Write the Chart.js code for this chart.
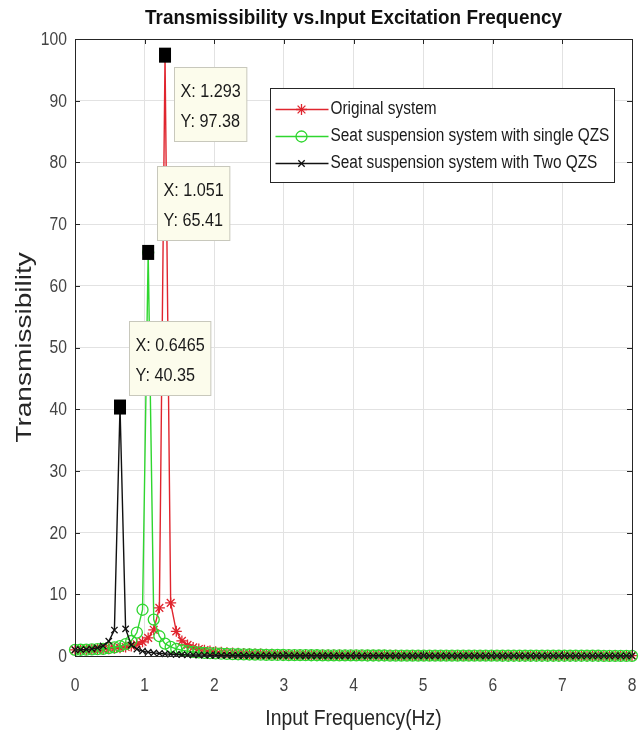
<!DOCTYPE html>
<html>
<head>
<meta charset="utf-8">
<title>Transmissibility vs. Input Excitation Frequency</title>
<script src="https://cdn.jsdelivr.net/npm/chart.js@4.4.1/dist/chart.umd.min.js"></script>
<style>
  html, body { margin: 0; padding: 0; background: #fff; }
  #wrap { width: 644px; height: 740px; }
</style>
</head>
<body>
<div id="wrap"><canvas id="chart" width="644" height="740"></canvas></div>
<script>
// --- data ---
// frequency grid, 100 samples from 0 to 8 Hz
var freqHz = [
  0, 0.081, 0.162, 0.242, 0.323, 0.404, 0.485, 0.566, 0.6465, 0.727,
  0.808, 0.889, 0.970, 1.051, 1.131, 1.212, 1.293, 1.374, 1.455, 1.535,
  1.616, 1.697, 1.778, 1.859, 1.939, 2.020, 2.101, 2.182, 2.263, 2.343,
  2.424, 2.505, 2.586, 2.667, 2.747, 2.828, 2.909, 2.990, 3.071, 3.152,
  3.232, 3.313, 3.394, 3.475, 3.556, 3.636, 3.717, 3.798, 3.879, 3.960,
  4.040, 4.121, 4.202, 4.283, 4.364, 4.444, 4.525, 4.606, 4.687, 4.768,
  4.848, 4.929, 5.010, 5.091, 5.172, 5.253, 5.333, 5.414, 5.495, 5.576,
  5.657, 5.737, 5.818, 5.899, 5.980, 6.061, 6.141, 6.222, 6.303, 6.384,
  6.465, 6.545, 6.626, 6.707, 6.788, 6.869, 6.949, 7.030, 7.111, 7.192,
  7.273, 7.354, 7.434, 7.515, 7.596, 7.677, 7.758, 7.838, 7.919, 8.000
];

var originalT = [
  1.00, 1.00, 1.02, 1.04, 1.07, 1.11, 1.16, 1.24, 1.33, 1.46,
  1.64, 1.89, 2.29, 2.93, 4.25, 7.80, 97.38, 8.60, 4.00, 2.45,
  1.79, 1.39, 1.13, 0.95, 0.81, 0.70, 0.61, 0.54, 0.48, 0.44,
  0.40, 0.36, 0.33, 0.31, 0.29, 0.27, 0.25, 0.24, 0.22, 0.21,
  0.20, 0.19, 0.18, 0.17, 0.17, 0.16, 0.15, 0.15, 0.14, 0.14,
  0.13, 0.13, 0.12, 0.12, 0.12, 0.11, 0.11, 0.11, 0.10, 0.10,
  0.10, 0.10, 0.09, 0.09, 0.09, 0.09, 0.08, 0.08, 0.08, 0.08,
  0.08, 0.08, 0.07, 0.07, 0.07, 0.07, 0.07, 0.07, 0.07, 0.06,
  0.06, 0.06, 0.06, 0.06, 0.06, 0.06, 0.06, 0.06, 0.05, 0.05,
  0.05, 0.05, 0.05, 0.05, 0.05, 0.05, 0.05, 0.05, 0.05, 0.05
];

var singleQzsT = [
  1.00, 1.01, 1.02, 1.06, 1.10, 1.17, 1.27, 1.41, 1.61, 1.92,
  2.43, 3.80, 7.50, 65.41, 5.90, 3.20, 2.00, 1.47, 1.15, 0.94,
  0.79, 0.68, 0.59, 0.52, 0.46, 0.41, 0.37, 0.34, 0.31, 0.28,
  0.26, 0.24, 0.22, 0.21, 0.19, 0.18, 0.17, 0.16, 0.15, 0.14,
  0.14, 0.13, 0.12, 0.12, 0.11, 0.11, 0.10, 0.10, 0.10, 0.09,
  0.09, 0.09, 0.08, 0.08, 0.08, 0.08, 0.07, 0.07, 0.07, 0.07,
  0.07, 0.06, 0.06, 0.06, 0.06, 0.06, 0.06, 0.05, 0.05, 0.05,
  0.05, 0.05, 0.05, 0.05, 0.05, 0.05, 0.04, 0.04, 0.04, 0.04,
  0.04, 0.04, 0.04, 0.04, 0.04, 0.04, 0.04, 0.04, 0.04, 0.04,
  0.04, 0.04, 0.04, 0.04, 0.03, 0.03, 0.03, 0.03, 0.03, 0.03
];

var twoQzsT = [
  1.00, 1.02, 1.07, 1.16, 1.33, 1.64, 2.40, 4.20, 40.35, 4.40,
  1.78, 1.12, 0.80, 0.62, 0.50, 0.41, 0.34, 0.29, 0.25, 0.22,
  0.19, 0.17, 0.15, 0.14, 0.12, 0.11, 0.10, 0.10, 0.09, 0.08,
  0.08, 0.07, 0.07, 0.06, 0.06, 0.06, 0.05, 0.05, 0.05, 0.05,
  0.04, 0.04, 0.04, 0.04, 0.04, 0.04, 0.03, 0.03, 0.03, 0.03,
  0.03, 0.03, 0.03, 0.03, 0.03, 0.03, 0.03, 0.02, 0.02, 0.02,
  0.02, 0.02, 0.02, 0.02, 0.02, 0.02, 0.02, 0.02, 0.02, 0.02,
  0.02, 0.02, 0.02, 0.02, 0.02, 0.02, 0.02, 0.02, 0.02, 0.02,
  0.02, 0.02, 0.02, 0.02, 0.02, 0.01, 0.01, 0.01, 0.01, 0.01,
  0.01, 0.01, 0.01, 0.01, 0.01, 0.01, 0.01, 0.01, 0.01, 0.01
];

var xTicks = [0, 1, 2, 3, 4, 5, 6, 7, 8];
var yTicks = [0, 10, 20, 30, 40, 50, 60, 70, 80, 90, 100];

var seriesNames = [
  'Original system',
  'Seat suspension system with single QZS',
  'Seat suspension system with Two QZS'
];

// data tips: sample index on each series and the X text MATLAB shows
var tipIndex = [16, 13, 8];
var tipXText = ['1.293', '1.051', '0.6465'];

// --- styles ---
var FONT = '"Liberation Sans", Arial, Helvetica, sans-serif';
var RED = '#e0252e';
var GREEN = '#2fd62f';
var BLACK = '#111111';
var SERIES_COLORS = [RED, GREEN, BLACK];
var SERIES_MARKERS = ['star', 'circle', 'crossRot'];
var SERIES_RADIUS = [5.5, 5.5, 4.5];

function toPoints(values) {
  return values.map(function (v, i) { return { x: freqHz[i], y: v }; });
}

// the original figure was squeezed sideways, so text is drawn narrower
function squeezeText(ctx, text, x, y, s) {
  var w = ctx.measureText(text).width;
  ctx.fillText(text, x, y, w * s);
}

function drawMarker(ctx, style, x, y, r, color) {
  ctx.save();
  ctx.strokeStyle = color;
  ctx.lineWidth = 1.3;
  ctx.beginPath();
  if (style === 'circle') {
    ctx.arc(x, y, r, 0, Math.PI * 2);
  } else {
    var d = r * Math.SQRT1_2;
    if (style === 'star') {
      ctx.moveTo(x - r, y); ctx.lineTo(x + r, y);
      ctx.moveTo(x, y - r); ctx.lineTo(x, y + r);
    }
    ctx.moveTo(x - d, y - d); ctx.lineTo(x + d, y + d);
    ctx.moveTo(x - d, y + d); ctx.lineTo(x + d, y - d);
  }
  ctx.stroke();
  ctx.restore();
}

// --- plugins ---

// axes box with inward ticks, tick labels, title and axis labels
var framePlugin = {
  id: 'frame',
  afterDatasetsDraw: function (chart) {
    var ctx = chart.ctx;
    var a = chart.chartArea;
    var xs = chart.scales.x, ys = chart.scales.y;
    ctx.save();
    ctx.strokeStyle = '#262626';
    ctx.lineWidth = 1;
    ctx.strokeRect(a.left + 0.5, a.top + 0.5, a.right - a.left, a.bottom - a.top);
    ctx.beginPath();
    xTicks.forEach(function (v) {
      var px = Math.round(xs.getPixelForValue(v)) + 0.5;
      ctx.moveTo(px, a.bottom); ctx.lineTo(px, a.bottom - 5);
      ctx.moveTo(px, a.top); ctx.lineTo(px, a.top + 5);
    });
    yTicks.forEach(function (v) {
      var py = Math.round(ys.getPixelForValue(v)) + 0.5;
      ctx.moveTo(a.left, py); ctx.lineTo(a.left + 5, py);
      ctx.moveTo(a.right, py); ctx.lineTo(a.right - 5, py);
    });
    ctx.stroke();

    // tick labels
    ctx.fillStyle = '#444';
    ctx.font = '18px ' + FONT;
    ctx.textBaseline = 'middle';
    ctx.textAlign = 'center';
    xTicks.forEach(function (v) {
      squeezeText(ctx, String(v), xs.getPixelForValue(v), a.bottom + 30, 0.87);
    });
    ctx.textAlign = 'right';
    yTicks.forEach(function (v) {
      squeezeText(ctx, String(v), a.left - 8, ys.getPixelForValue(v) + 1, 0.87);
    });

    // title
    ctx.fillStyle = '#111';
    ctx.font = 'bold 21px ' + FONT;
    ctx.textAlign = 'center';
    squeezeText(ctx, 'Transmissibility vs.Input Excitation Frequency', (a.left + a.right) / 2, 18, 0.9);

    // x label
    ctx.fillStyle = '#262626';
    ctx.font = '22px ' + FONT;
    squeezeText(ctx, 'Input Frequency(Hz)', (a.left + a.right) / 2, 719, 0.88);

    // y label (rotated, squeezed like the original figure)
    ctx.translate(25, (a.top + a.bottom) / 2);
    ctx.rotate(-Math.PI / 2);
    ctx.scale(1, 0.8);
    ctx.font = '28px ' + FONT;
    ctx.fillText('Transmissibility', 0, 0);
    ctx.restore();
  }
};

// MATLAB style data tips
var datatipPlugin = {
  id: 'datatips',
  afterDatasetsDraw: function (chart) {
    var ctx = chart.ctx;
    var xs = chart.scales.x, ys = chart.scales.y;
    var s = 0.9;
    ctx.save();
    chart.data.datasets.forEach(function (ds, k) {
      var i = tipIndex[k];
      var px = xs.getPixelForValue(ds.data[i].x);
      var py = ys.getPixelForValue(ds.data[i].y);
      ctx.fillStyle = '#000';
      ctx.fillRect(px - 6, py - 7.5, 12, 15);

      var lines = ['X: ' + tipXText[k], 'Y: ' + String(ds.data[i].y)];
      ctx.font = '18px ' + FONT;
      var w = Math.max(ctx.measureText(lines[0]).width, ctx.measureText(lines[1]).width) * s + 12;
      var h = 74;
      var bx = Math.round(px + 8.5) + 0.5;
      var by = py - h < chart.chartArea.top + 20 ? Math.round(py + 12) + 0.5 : Math.round(py - 12 - h) + 0.5;
      ctx.fillStyle = '#fcfcec';
      ctx.strokeStyle = '#c8c8bc';
      ctx.lineWidth = 1;
      ctx.fillRect(bx, by, w, h);
      ctx.strokeRect(bx, by, w, h);
      ctx.fillStyle = '#1a1a1a';
      ctx.textAlign = 'left';
      ctx.textBaseline = 'middle';
      squeezeText(ctx, lines[0], bx + 6, by + 25, s);
      squeezeText(ctx, lines[1], bx + 6, by + 55, s);
    });
    ctx.restore();
  }
};

// legend box inside the axes, top right
var legendPlugin = {
  id: 'boxLegend',
  afterDatasetsDraw: function (chart) {
    var ctx = chart.ctx;
    var bx = 270.5, by = 88.5, bw = 344, bh = 94;
    ctx.save();
    ctx.fillStyle = '#fff';
    ctx.strokeStyle = '#262626';
    ctx.lineWidth = 1;
    ctx.fillRect(bx, by, bw, bh);
    ctx.strokeRect(bx, by, bw, bh);
    ctx.font = '18px ' + FONT;
    ctx.textAlign = 'left';
    ctx.textBaseline = 'middle';
    seriesNames.forEach(function (name, k) {
      var y = by + 21 + k * 27;
      ctx.strokeStyle = SERIES_COLORS[k];
      ctx.lineWidth = 1.3;
      ctx.beginPath();
      ctx.moveTo(bx + 5, y);
      ctx.lineTo(bx + 58, y);
      ctx.stroke();
      drawMarker(ctx, SERIES_MARKERS[k], bx + 31, y, SERIES_RADIUS[k], SERIES_COLORS[k]);
      ctx.fillStyle = '#1a1a1a';
      squeezeText(ctx, name, bx + 60, y, 0.855);
    });
    ctx.restore();
  }
};

function makeDataset(k, values, order) {
  return {
    label: seriesNames[k],
    data: toPoints(values),
    borderColor: SERIES_COLORS[k],
    borderWidth: 1.4,
    pointStyle: SERIES_MARKERS[k],
    pointRadius: SERIES_RADIUS[k],
    pointBorderColor: SERIES_COLORS[k],
    pointBackgroundColor: 'rgba(0,0,0,0)',
    pointBorderWidth: 1.3,
    tension: 0,
    fill: false,
    clip: false,
    order: order
  };
}

new Chart(document.getElementById('chart'), {
  type: 'line',
  data: {
    datasets: [
      makeDataset(0, originalT, 3),
      makeDataset(1, singleQzsT, 2),
      makeDataset(2, twoQzsT, 1)
    ]
  },
  plugins: [framePlugin, datatipPlugin, legendPlugin],
  options: {
    responsive: false,
    animation: false,
    layout: { padding: { top: 39, right: 12, left: 0, bottom: 0 } },
    plugins: {
      legend: { display: false },
      tooltip: { enabled: false }
    },
    scales: {
      x: {
        type: 'linear',
        min: 0,
        max: 8,
        afterBuildTicks: function (s) { s.ticks = xTicks.map(function (v) { return { value: v }; }); },
        afterFit: function (s) { s.height = 84; },
        ticks: { display: false },
        grid: { color: '#e2e2e2', drawTicks: false },
        border: { display: false }
      },
      y: {
        type: 'linear',
        min: 0,
        max: 100,
        afterBuildTicks: function (s) { s.ticks = yTicks.map(function (v) { return { value: v }; }); },
        afterFit: function (s) { s.width = 75; },
        ticks: { display: false },
        grid: { color: '#e2e2e2', drawTicks: false },
        border: { display: false }
      }
    }
  }
});
</script>
</body>
</html>
